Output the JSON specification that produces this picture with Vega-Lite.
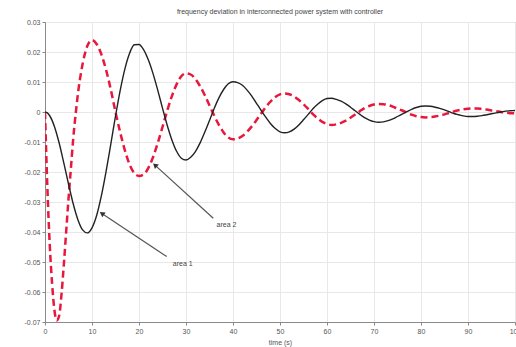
{
  "$schema": "https://vega.github.io/schema/vega-lite/v6.json",
  "width": 470,
  "height": 300,
  "autosize": {"type": "none"},
  "padding": {"left": 45, "top": 22, "right": 1, "bottom": 25},
  "background": "white",
  "config": {
    "view": {"stroke": "#8a8a8a", "strokeWidth": 1},
    "font": "Liberation Sans",
    "axis": {
      "gridColor": "#e8e8e8",
      "gridWidth": 1,
      "domainColor": "#8a8a8a",
      "tickColor": "#8a8a8a",
      "labelColor": "#555555",
      "titleColor": "#555555",
      "labelFontSize": 7,
      "titleFontSize": 7,
      "titleFontWeight": "normal",
      "tickSize": 3,
      "labelOverlap": false,
      "labelFlush": false
    }
  },
  "title": {
    "text": "frequency deviation in interconnected power system with controller",
    "fontSize": 7,
    "fontWeight": "normal",
    "color": "#444444",
    "offset": 3
  },
  "datasets": {
    "black": [
      {"t":0,"v":0},{"t":0.5,"v":-0.0003},{"t":1,"v":-0.00125},{"t":2,"v":-0.0048},{"t":3,"v":-0.01026},{"t":4,"v":-0.01697},{"t":5,"v":-0.024},{"t":6,"v":-0.0306},{"t":7,"v":-0.0359},{"t":8,"v":-0.0393},{"t":9,"v":-0.0403},{"t":10,"v":-0.0386},
      {"t":11,"v":-0.0344},{"t":12,"v":-0.0279},{"t":13,"v":-0.0198},{"t":14,"v":-0.0107},{"t":15,"v":-0.0014},{"t":16,"v":0.0072},{"t":17,"v":0.0144},{"t":18,"v":0.0196},{"t":19,"v":0.0224},{"t":20,"v":0.0225},
      {"t":21,"v":0.0207},{"t":22,"v":0.0173},{"t":23,"v":0.0127},{"t":24,"v":0.0072},{"t":25,"v":0.0013},{"t":26,"v":-0.0044},{"t":27,"v":-0.0093},{"t":28,"v":-0.0131},{"t":29,"v":-0.0154},{"t":30,"v":-0.016},
      {"t":31,"v":-0.0151},{"t":32,"v":-0.0132},{"t":33,"v":-0.0103},{"t":34,"v":-0.0067},{"t":35,"v":-0.0028},{"t":36,"v":0.0012},{"t":37,"v":0.0047},{"t":38,"v":0.0075},{"t":39,"v":0.0094},{"t":40,"v":0.0101},
      {"t":41,"v":0.0098},{"t":42,"v":0.0089},{"t":43,"v":0.0073},{"t":44,"v":0.0053},{"t":45,"v":0.0029},{"t":46,"v":0.0005},{"t":47,"v":-0.0018},{"t":48,"v":-0.0039},{"t":49,"v":-0.0055},{"t":50,"v":-0.0066},
      {"t":51,"v":-0.0069},{"t":52,"v":-0.0066},{"t":53,"v":-0.0057},{"t":54,"v":-0.0043},{"t":55,"v":-0.0026},{"t":56,"v":-0.0008},{"t":57,"v":0.0011},{"t":58,"v":0.0026},{"t":59,"v":0.0038},{"t":60,"v":0.0045},
      {"t":61,"v":0.0046},{"t":62,"v":0.0042},{"t":63,"v":0.0036},{"t":64,"v":0.0027},{"t":65,"v":0.0016},{"t":66,"v":0.0004},{"t":67,"v":-0.0008},{"t":68,"v":-0.0019},{"t":69,"v":-0.0027},{"t":70,"v":-0.0032},
      {"t":71,"v":-0.0034},{"t":72,"v":-0.0033},{"t":73,"v":-0.0029},{"t":74,"v":-0.0023},{"t":75,"v":-0.0015},{"t":76,"v":-0.0007},{"t":77,"v":0.0001},{"t":78,"v":0.0009},{"t":79,"v":0.0015},{"t":80,"v":0.0019},
      {"t":81,"v":0.002},{"t":82,"v":0.0019},{"t":83,"v":0.0016},{"t":84,"v":0.0012},{"t":85,"v":0.0007},{"t":86,"v":0.0001},{"t":87,"v":-0.0005},{"t":88,"v":-0.0009},{"t":89,"v":-0.0013},{"t":90,"v":-0.0015},
      {"t":91,"v":-0.0015},{"t":92,"v":-0.0014},{"t":93,"v":-0.0012},{"t":94,"v":-0.0009},{"t":95,"v":-0.0006},{"t":96,"v":-0.0003},{"t":97,"v":0},{"t":98,"v":0.0003},{"t":99,"v":0.0004},{"t":100,"v":0.0005}
    ],
    "red": [
      {"t":0,"v":0},{"t":0.5,"v":-0.025},{"t":1,"v":-0.044},{"t":1.5,"v":-0.057},{"t":2,"v":-0.066},{"t":2.5,"v":-0.0695},{"t":3,"v":-0.068},{"t":3.5,"v":-0.061},{"t":4,"v":-0.051},{"t":4.5,"v":-0.04},{"t":5,"v":-0.029},{"t":5.5,"v":-0.019},{"t":6,"v":-0.009},{"t":6.5,"v":-0.001},{"t":7,"v":0.006},{"t":8,"v":0.016},{"t":9,"v":0.022},{"t":10,"v":0.024},
      {"t":11,"v":0.0226},{"t":12,"v":0.0192},{"t":13,"v":0.014},{"t":14,"v":0.0075},{"t":15,"v":0},{"t":16,"v":-0.0068},{"t":17,"v":-0.0128},{"t":18,"v":-0.0175},{"t":19,"v":-0.0204},{"t":20,"v":-0.0213},
      {"t":21,"v":-0.0208},{"t":22,"v":-0.0186},{"t":23,"v":-0.015},{"t":24,"v":-0.0103},{"t":25,"v":-0.005},{"t":26,"v":0.0004},{"t":27,"v":0.0053},{"t":28,"v":0.0092},{"t":29,"v":0.0119},{"t":30,"v":0.0129},
      {"t":31,"v":0.0125},{"t":32,"v":0.011},{"t":33,"v":0.0086},{"t":34,"v":0.0056},{"t":35,"v":0.0022},{"t":36,"v":-0.0012},{"t":37,"v":-0.0043},{"t":38,"v":-0.0068},{"t":39,"v":-0.0085},{"t":40,"v":-0.0091},
      {"t":41,"v":-0.0088},{"t":42,"v":-0.008},{"t":43,"v":-0.0066},{"t":44,"v":-0.0048},{"t":45,"v":-0.0027},{"t":46,"v":-0.0005},{"t":47,"v":0.0017},{"t":48,"v":0.0035},{"t":49,"v":0.005},{"t":50,"v":0.0059},
      {"t":51,"v":0.0062},{"t":52,"v":0.0059},{"t":53,"v":0.0052},{"t":54,"v":0.004},{"t":55,"v":0.0026},{"t":56,"v":0.001},{"t":57,"v":-0.0007},{"t":58,"v":-0.0021},{"t":59,"v":-0.0033},{"t":60,"v":-0.004},
      {"t":61,"v":-0.0043},{"t":62,"v":-0.0041},{"t":63,"v":-0.0036},{"t":64,"v":-0.0029},{"t":65,"v":-0.0019},{"t":66,"v":-0.0008},{"t":67,"v":0.0003},{"t":68,"v":0.0013},{"t":69,"v":0.002},{"t":70,"v":0.0025},
      {"t":71,"v":0.0027},{"t":72,"v":0.0026},{"t":73,"v":0.0023},{"t":74,"v":0.0018},{"t":75,"v":0.0011},{"t":76,"v":0.0005},{"t":77,"v":-0.0002},{"t":78,"v":-0.0009},{"t":79,"v":-0.0014},{"t":80,"v":-0.0017},
      {"t":81,"v":-0.0018},{"t":82,"v":-0.0017},{"t":83,"v":-0.0015},{"t":84,"v":-0.0012},{"t":85,"v":-0.0008},{"t":86,"v":-0.0003},{"t":87,"v":0.0002},{"t":88,"v":0.0006},{"t":89,"v":0.0009},{"t":90,"v":0.0011},
      {"t":91,"v":0.0012},{"t":92,"v":0.0012},{"t":93,"v":0.001},{"t":94,"v":0.0008},{"t":95,"v":0.0005},{"t":96,"v":0.0003},{"t":97,"v":0},{"t":98,"v":-0.0002},{"t":99,"v":-0.0004},{"t":100,"v":-0.0004}
    ],
    "notes": [
      {"label":"area 1","tx":25.9,"ty":-0.0482,"hx":12.1,"hy":-0.0338,"lx":27.2,"ly":-0.0508},
      {"label":"area 2","tx":35.8,"ty":-0.0354,"hx":23.4,"hy":-0.0177,"lx":36.5,"ly":-0.0377}
    ]
  },
  "layer": [
    {
      "data": {"name": "red"},
      "mark": {"type": "line", "color": "#e8173c", "strokeWidth": 2.5, "strokeDash": [7, 4], "clip": true, "interpolate": "monotone"},
      "encoding": {
        "x": {"field": "t", "type": "quantitative", "scale": {"domain": [0, 100], "nice": false},
              "axis": {"values": [0,10,20,30,40,50,60,70,80,90,100], "tickCount": 11, "title": "time (s)", "grid": true, "labelPadding": 2, "titlePadding": 4}},
        "y": {"field": "v", "type": "quantitative", "scale": {"domain": [-0.07, 0.03], "nice": false, "zero": false},
              "axis": {"values": [-0.07,-0.06,-0.05,-0.04,-0.03,-0.02,-0.01,0,0.01,0.02,0.03], "tickCount": 11, "title": null, "grid": true, "labelPadding": 2,
                       "labelExpr": "datum.value == 0 ? '0' : toString(round(datum.value*100)/100)"}}
      }
    },
    {
      "data": {"name": "black"},
      "mark": {"type": "line", "color": "#222222", "strokeWidth": 1.4, "clip": true, "interpolate": "monotone"},
      "encoding": {
        "x": {"field": "t", "type": "quantitative"},
        "y": {"field": "v", "type": "quantitative"}
      }
    },
    {
      "data": {"name": "notes"},
      "mark": {"type": "rule", "color": "#555555", "strokeWidth": 1.2},
      "encoding": {
        "x": {"field": "tx", "type": "quantitative"},
        "y": {"field": "ty", "type": "quantitative"},
        "x2": {"field": "hx"},
        "y2": {"field": "hy"}
      }
    },
    {
      "data": {"name": "notes"},
      "transform": [{"filter": "datum.label == 'area 1'"}],
      "mark": {"type": "point", "shape": "triangle-up", "filled": true, "color": "#333333", "size": 35, "angle": 304, "opacity": 1},
      "encoding": {
        "x": {"field": "hx", "type": "quantitative"},
        "y": {"field": "hy", "type": "quantitative"}
      }
    },
    {
      "data": {"name": "notes"},
      "transform": [{"filter": "datum.label == 'area 2'"}],
      "mark": {"type": "point", "shape": "triangle-up", "filled": true, "color": "#333333", "size": 35, "angle": 312, "opacity": 1},
      "encoding": {
        "x": {"field": "hx", "type": "quantitative"},
        "y": {"field": "hy", "type": "quantitative"}
      }
    },
    {
      "data": {"name": "notes"},
      "mark": {"type": "text", "align": "left", "baseline": "middle", "fontSize": 7, "color": "#444444"},
      "encoding": {
        "x": {"field": "lx", "type": "quantitative"},
        "y": {"field": "ly", "type": "quantitative"},
        "text": {"field": "label"}
      }
    }
  ]
}
